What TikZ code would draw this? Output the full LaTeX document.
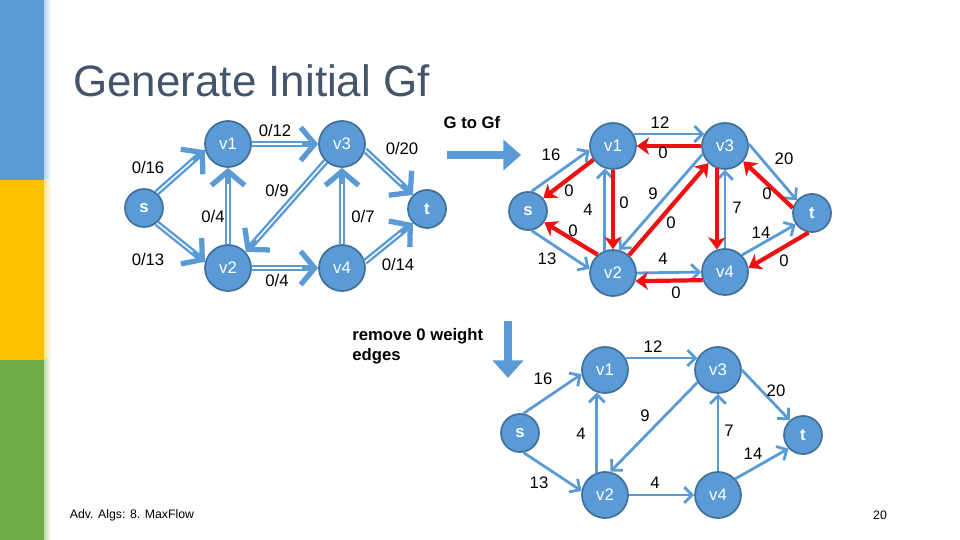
\documentclass[tikz,border=0pt]{standalone}
\usepackage{fontspec}
\setmainfont{Liberation Sans}
\setsansfont{Liberation Sans}
\usepackage{xcolor}
\usetikzlibrary{arrows.meta, positioning}

\definecolor{nodeblue}{HTML}{5B9BD5}
\definecolor{nodeline}{HTML}{41719C}
\definecolor{resred}{HTML}{EE1111}
\definecolor{titlegray}{HTML}{44546A}
\definecolor{baryellow}{HTML}{FFC000}
\definecolor{bargreen}{HTML}{70AD47}

\begin{document}
\begin{tikzpicture}[
      x=0.02cm, y=-0.02cm,
      vtx/.style={circle, draw=nodeline, line width=1pt, fill=nodeblue, text=white, inner sep=0pt, minimum size=0.92cm, font=\fontsize{9.5}{11}\selectfont},
      term/.style={vtx, minimum size=0.76cm, font=\fontsize{9.5}{11}\selectfont\bfseries},
      gedge/.style={draw=nodeblue, line width=3.6pt, -{Straight Barb[length=8pt, width=19pt, line width=3pt]},
        postaction={draw=white, line width=0.8pt, -, shorten >=9pt}},
      fwd/.style={draw=nodeblue, line width=1.6pt, -{Straight Barb[length=4.5pt, width=9pt]}},
      rev/.style={draw=resred, line width=2.4pt, -{Stealth[length=7pt, width=10pt, inset=2pt]}},
      big/.style={draw=nodeblue, line width=5pt, -{Triangle[length=10pt, width=17pt]}},
      lbl/.style={inner sep=1pt, font=\fontsize{9.5}{11}\selectfont},
      note/.style={inner sep=0pt, font=\fontsize{9.5}{11.5}\selectfont\bfseries, align=left}
    ]
    \useasboundingbox (0,0) rectangle (960,540);

    % ---- side bars ----
    \fill[nodeblue] (0,0) rectangle (44,180);
    \fill[baryellow] (0,180) rectangle (44,360);
    \fill[bargreen] (0,360) rectangle (44,540);
    \shade[left color=nodeblue!45, right color=white] (44,0) rectangle (51,180);
    \shade[left color=baryellow!45, right color=white] (44,180) rectangle (51,360);
    \shade[left color=bargreen!45, right color=white] (44,360) rectangle (51,540);

    \node[anchor=base west, inner sep=0pt, text=titlegray, font=\fontsize{25}{30}\selectfont] (title) at (73,97) {Generate Initial Gf};

    % ---- G: flow network ----
    \node[term] (gs)  at (144,208) {s};
    \node[vtx]  (gv1) at (228,144) {v1};
    \node[vtx]  (gv3) at (342,144) {v3};
    \node[vtx]  (gv2) at (228,268) {v2};
    \node[vtx]  (gv4) at (342,268) {v4};
    \node[term] (gt)  at (427,209) {t};

    \draw[gedge] (gs.50) -- (gv1.195);
    \draw[gedge] (gs.-50) -- (gv2.165);
    \draw[gedge] (gv1.0) -- (gv3.180);
    \draw[gedge] (gv2.90) -- (gv1.270);
    \draw[gedge] (gv3.227) -- (gv2.42);
    \draw[gedge] (gv2.0) -- (gv4.180);
    \draw[gedge] (gv4.90) -- (gv3.270);
    \draw[gedge] (gv3.-15) -- (gt.135);
    \draw[gedge] (gv4.15) -- (gt.225);

    \node[lbl] (gl1) at (148,168) {0/16};
    \node[lbl] (gl2) at (275,131) {0/12};
    \node[lbl] (gl3) at (402,149) {0/20};
    \node[lbl] (gl4) at (277,191) {0/9};
    \node[lbl] (gl5) at (213,217) {0/4};
    \node[lbl] (gl6) at (363,217) {0/7};
    \node[lbl] (gl7) at (148,260) {0/13};
    \node[lbl] (gl8) at (277,281) {0/4};
    \node[lbl] (gl9) at (398,265) {0/14};

    % ---- G to Gf ----
    \node[note] (gtogf) at (472,123) {G to Gf};
    \coordinate (gtogfA) at (447,155);
    \coordinate (gtogfB) at (521,155);
    \draw[big] (gtogfA) -- (gtogfB);

    % ---- Gf: residual network ----
    \node[term] (fs)  at (528,211) {s};
    \node[vtx]  (fv1) at (613,146) {v1};
    \node[vtx]  (fv3) at (725,146) {v3};
    \node[vtx]  (fv2) at (613,273) {v2};
    \node[vtx]  (fv4) at (725,272) {v4};
    \node[term] (ft)  at (812,213) {t};

    \draw[fwd] (fs.80) -- (fv1.190);
    \draw[fwd] (fs.280) -- (fv2.170);
    \draw[fwd] (fv1.30) -- (fv3.150);
    \draw[fwd] (fv2.110) -- (fv1.250);
    \draw[fwd] (fv3.200) -- (fv2.75);
    \draw[fwd] (fv2.0) -- (fv4.180);
    \draw[fwd] (fv4.90) -- (fv3.270);
    \draw[fwd] (fv3.5) -- (ft.140);
    \draw[fwd] (fv4.45) -- (ft.215);

    \draw[rev] (fv1.215) -- (fs.40);
    \draw[rev] (fv3.180) -- (fv1.0);
    \draw[rev] (fv1.270) -- (fv2.90);
    \draw[rev] (fv2.48) -- (fv3.226);
    \draw[rev] (fv3.250) -- (fv4.110);
    \draw[rev] (fv4.200) -- (fv2.340);
    \draw[rev] (ft.165) -- (fv3.320);
    \draw[rev] (ft.260) -- (fv4.10);
    \draw[rev] (fv2.130) -- (fs.325);

    \node[lbl] (fl1)  at (660,123) {12};
    \node[lbl] (fl2)  at (663,153) {0};
    \node[lbl] (fl3)  at (551,155) {16};
    \node[lbl] (fl4)  at (784,159) {20};
    \node[lbl] (fl5)  at (569,191) {0};
    \node[lbl] (fl6)  at (588,210) {4};
    \node[lbl] (fl7)  at (624,203) {0};
    \node[lbl] (fl8)  at (653,194) {9};
    \node[lbl] (fl9)  at (671,223) {0};
    \node[lbl] (fl10) at (737,208) {7};
    \node[lbl] (fl11) at (767,194) {0};
    \node[lbl] (fl12) at (761,233) {14};
    \node[lbl] (fl13) at (573,231) {0};
    \node[lbl] (fl14) at (547,259) {13};
    \node[lbl] (fl15) at (663,259) {4};
    \node[lbl] (fl16) at (784,261) {0};
    \node[lbl] (fl17) at (676,293) {0};

    % ---- remove 0 weight edges ----
    \node[note, anchor=north west] (rmnote) at (352,328) {remove 0 weight\\edges};
    \coordinate (rmA) at (508,321);
    \coordinate (rmB) at (508,378);
    \draw[big] (rmA) -- (rmB);

    % ---- Gf without 0 edges ----
    \node[term] (rs)  at (520,433) {s};
    \node[vtx]  (rv1) at (605,370) {v1};
    \node[vtx]  (rv3) at (718,370) {v3};
    \node[vtx]  (rv2) at (605,495) {v2};
    \node[vtx]  (rv4) at (718,495) {v4};
    \node[term] (rt)  at (803,435) {t};

    \draw[fwd] (rs.80) -- (rv1.190);
    \draw[fwd] (rs.280) -- (rv2.170);
    \draw[fwd] (rv1.30) -- (rv3.150);
    \draw[fwd] (rv2.110) -- (rv1.250);
    \draw[fwd] (rv3.211) -- (rv2.77);
    \draw[fwd] (rv2.0) -- (rv4.180);
    \draw[fwd] (rv4.90) -- (rv3.270);
    \draw[fwd] (rv3.0) -- (rt.132);
    \draw[fwd] (rv4.43) -- (rt.223);

    \node[lbl] (rl1) at (653,347) {12};
    \node[lbl] (rl2) at (543,379) {16};
    \node[lbl] (rl3) at (776,391) {20};
    \node[lbl] (rl4) at (645,416) {9};
    \node[lbl] (rl5) at (581,434) {4};
    \node[lbl] (rl6) at (729,431) {7};
    \node[lbl] (rl7) at (753,454) {14};
    \node[lbl] (rl8) at (539,483) {13};
    \node[lbl] (rl9) at (655,483) {4};

    % ---- footer ----
    \node[inner sep=0pt, font=\fontsize{7}{8}\selectfont] (foot) at (132,515) {Adv. Algs: 8. MaxFlow};
    \node[inner sep=0pt, font=\fontsize{7}{8}\selectfont] (pageno) at (880,515) {20};

    \end{tikzpicture}
\end{document}
